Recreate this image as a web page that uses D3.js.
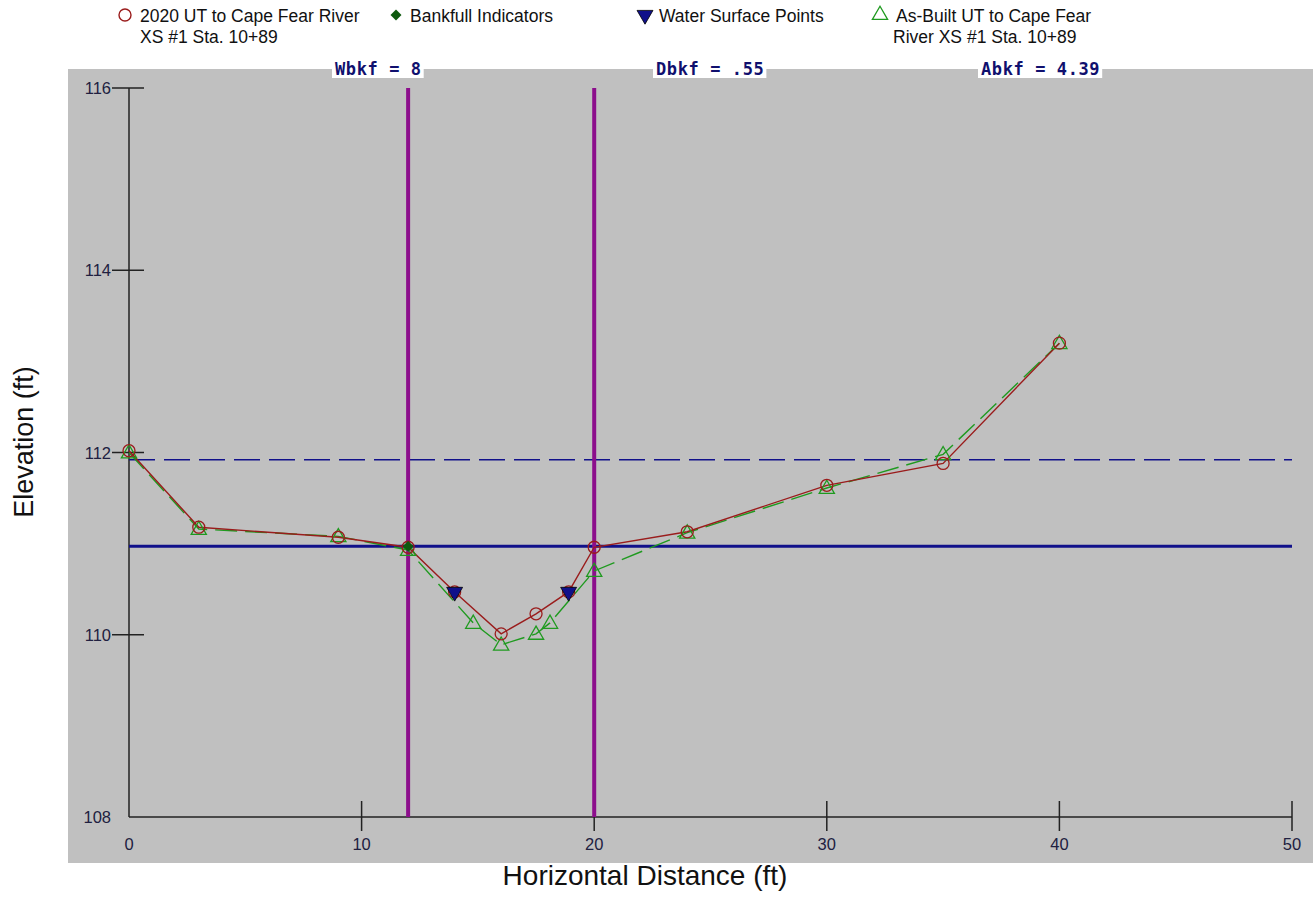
<!DOCTYPE html>
<html>
<head>
<meta charset="utf-8">
<script src="https://cdn.jsdelivr.net/npm/d3@7"></script>
<style>
  body { margin: 0; background: #fff; }
  svg { display: block; font-family: Arial, "Liberation Sans", sans-serif; }
</style>
</head>
<body>
<svg width="1313" height="920"></svg>
<script>
// 2020 survey
var survey2020X = [0, 3, 9, 12, 14, 16, 17.5, 18.9, 20, 24, 30, 35, 40]
var survey2020Y = [112.02, 111.18, 111.07, 110.96, 110.47, 110.01, 110.23, 110.47, 110.96, 111.13, 111.64, 111.88, 113.2]
// as-built survey
var asBuiltX = [0, 3, 9, 12, 14.8, 16, 17.5, 18.1, 20, 24, 30, 35, 40]
var asBuiltY = [112.0, 111.16, 111.08, 110.93, 110.13, 109.89, 110.01, 110.13, 110.7, 111.12, 111.61, 111.98, 113.2]
var bankfullX = [12], bankfullY = [110.97]
var wspX = [14, 18.9], wspY = [110.47, 110.47]
var bkfElev = 110.97
var floodElev = 111.92
var bkfStations = [12, 20]
var stats = ["Wbkf = 8", "Dbkf = .55", "Abkf = 4.39"]
var xTicks = [0, 10, 20, 30, 40, 50]
var yTicks = [108, 110, 112, 114, 116]

var svg = d3.select('svg')
var x = d3.scaleLinear().domain([0, 50]).range([129, 1292])
var y = d3.scaleLinear().domain([108, 116]).range([817, 88])

// grey panel
svg.append('rect').attr('x', 68).attr('y', 69).attr('width', 1245).attr('height', 794).attr('fill', '#c0c0c0')

// stat boxes
var statX = [332, 653, 978]
stats.forEach(function (s, i) {
  var t = svg.append('text')
    .attr('x', statX[i] + 3).attr('y', 75)
    .attr('font-family', '"DejaVu Sans Mono", monospace')
    .attr('font-weight', 'bold').attr('font-size', 17).attr('letter-spacing', 0.6)
    .attr('fill', '#10106e')
    .attr('xml:space', 'preserve')
    .text(s)
  var bb = t.node().getBBox()
  svg.insert('rect', function () { return t.node() })
    .attr('x', statX[i]).attr('y', 60).attr('width', bb.width + 5).attr('height', 18).attr('fill', '#fff')
})

// axes
var yAxis = svg.append('g')
yAxis.append('line').attr('x1', 129).attr('x2', 129).attr('y1', y(116)).attr('y2', y(108)).attr('stroke', '#222').attr('stroke-width', 1.5)
yAxis.selectAll('.tk').data(yTicks.slice(1)).enter().append('line')
  .attr('x1', 112).attr('x2', 144).attr('y1', d => y(d)).attr('y2', d => y(d))
  .attr('stroke', '#222').attr('stroke-width', 1.5)
yAxis.selectAll('text').data(yTicks).enter().append('text')
  .attr('x', 111).attr('y', d => y(d) + 6).attr('text-anchor', 'end')
  .attr('font-size', 16.5).attr('fill', '#202040').text(d => d)

var xAxis = svg.append('g')
xAxis.append('line').attr('x1', x(0)).attr('x2', x(50)).attr('y1', 817).attr('y2', 817).attr('stroke', '#222').attr('stroke-width', 1.5)
xAxis.selectAll('.tk').data(xTicks.slice(1)).enter().append('line')
  .attr('x1', d => x(d)).attr('x2', d => x(d)).attr('y1', 801).attr('y2', 831)
  .attr('stroke', '#222').attr('stroke-width', 1.5)
xAxis.selectAll('text').data(xTicks).enter().append('text')
  .attr('x', d => x(d)).attr('y', 850).attr('text-anchor', 'middle')
  .attr('font-size', 16.5).attr('fill', '#202040').text(d => d)

// axis titles
svg.append('text').attr('transform', 'translate(33,442) rotate(-90)').attr('text-anchor', 'middle')
  .attr('font-size', 27).attr('fill', '#111').text('Elevation (ft)')
svg.append('text').attr('x', 645).attr('y', 885).attr('text-anchor', 'middle')
  .attr('font-size', 28).attr('fill', '#111').text('Horizontal Distance (ft)')

// bankfull & flood-prone lines
svg.append('line').attr('x1', x(0)).attr('x2', x(50)).attr('y1', y(floodElev)).attr('y2', y(floodElev))
  .attr('stroke', '#10108a').attr('stroke-width', 1.6).attr('stroke-dasharray', '26,9')
svg.append('line').attr('x1', x(0)).attr('x2', x(50)).attr('y1', y(bkfElev)).attr('y2', y(bkfElev))
  .attr('stroke', '#10108a').attr('stroke-width', 3)

// vertical bankfull stations
svg.selectAll('.vbk').data(bkfStations).enter().append('line')
  .attr('x1', d => x(d)).attr('x2', d => x(d)).attr('y1', y(116)).attr('y2', y(108))
  .attr('stroke', '#8c0e8c').attr('stroke-width', 4)

var line = d3.line().x(d => x(d[0])).y(d => y(d[1]))
var asBuilt = d3.zip(asBuiltX, asBuiltY)
var s2020 = d3.zip(survey2020X, survey2020Y)

// as-built (green dashed)
svg.append('path').attr('d', line(asBuilt)).attr('fill', 'none')
  .attr('stroke', '#1f9a1f').attr('stroke-width', 1.4).attr('stroke-dasharray', '22,8')
// 2020 (red solid)
svg.append('path').attr('d', line(s2020)).attr('fill', 'none')
  .attr('stroke', '#9a1c1c').attr('stroke-width', 1.4)

var tri = d3.symbol().type(d3.symbolTriangle).size(100)
svg.selectAll('.ab').data(asBuilt).enter().append('path')
  .attr('d', tri).attr('transform', d => `translate(${x(d[0])},${y(d[1]) + 1})`)
  .attr('fill', 'none').attr('stroke', '#1f9a1f').attr('stroke-width', 1.3)

svg.selectAll('.c20').data(s2020).enter().append('circle')
  .attr('cx', d => x(d[0])).attr('cy', d => y(d[1])).attr('r', 6)
  .attr('fill', 'none').attr('stroke', '#9a1c1c').attr('stroke-width', 1.3)

var diamond = d3.symbol().type(d3.symbolSquare).size(60)
svg.selectAll('.bk').data(d3.zip(bankfullX, bankfullY)).enter().append('path')
  .attr('d', diamond)
  .attr('transform', d => `translate(${x(d[0])},${y(d[1])}) rotate(45)`)
  .attr('fill', '#0e5a0e')

svg.selectAll('.ws').data(d3.zip(wspX, wspY)).enter().append('path')
  .attr('d', d3.symbol().type(d3.symbolTriangle).size(110))
  .attr('transform', d => `translate(${x(d[0])},${y(d[1])}) rotate(180)`)
  .attr('fill', '#10108a').attr('stroke', '#000').attr('stroke-width', 0.8)

// legend
var lg = svg.append('g').attr('font-size', 17.5).attr('fill', '#111')
lg.append('circle').attr('cx', 125).attr('cy', 15).attr('r', 6).attr('fill', 'none').attr('stroke', '#9a1c1c').attr('stroke-width', 1.4)
lg.append('text').attr('x', 140).attr('y', 22).text('2020 UT to Cape Fear River')
lg.append('text').attr('x', 140).attr('y', 43).text('XS #1 Sta. 10+89')
lg.append('path').attr('d', diamond).attr('transform', 'translate(396,15) rotate(45)').attr('fill', '#0e5a0e')
lg.append('text').attr('x', 410).attr('y', 22).text('Bankfull Indicators')
lg.append('path').attr('d', d3.symbol().type(d3.symbolTriangle).size(110)).attr('transform', 'translate(645,15) rotate(180)').attr('fill', '#10108a').attr('stroke', '#000').attr('stroke-width', 0.8)
lg.append('text').attr('x', 659).attr('y', 22).text('Water Surface Points')
lg.append('path').attr('d', d3.symbol().type(d3.symbolTriangle).size(100)).attr('transform', 'translate(880,15)').attr('fill', 'none').attr('stroke', '#1f9a1f').attr('stroke-width', 1.3)
lg.append('text').attr('x', 896).attr('y', 22).text('As-Built UT to Cape Fear')
lg.append('text').attr('x', 893).attr('y', 43).text('River XS #1 Sta. 10+89')
</script>
</body>
</html>
